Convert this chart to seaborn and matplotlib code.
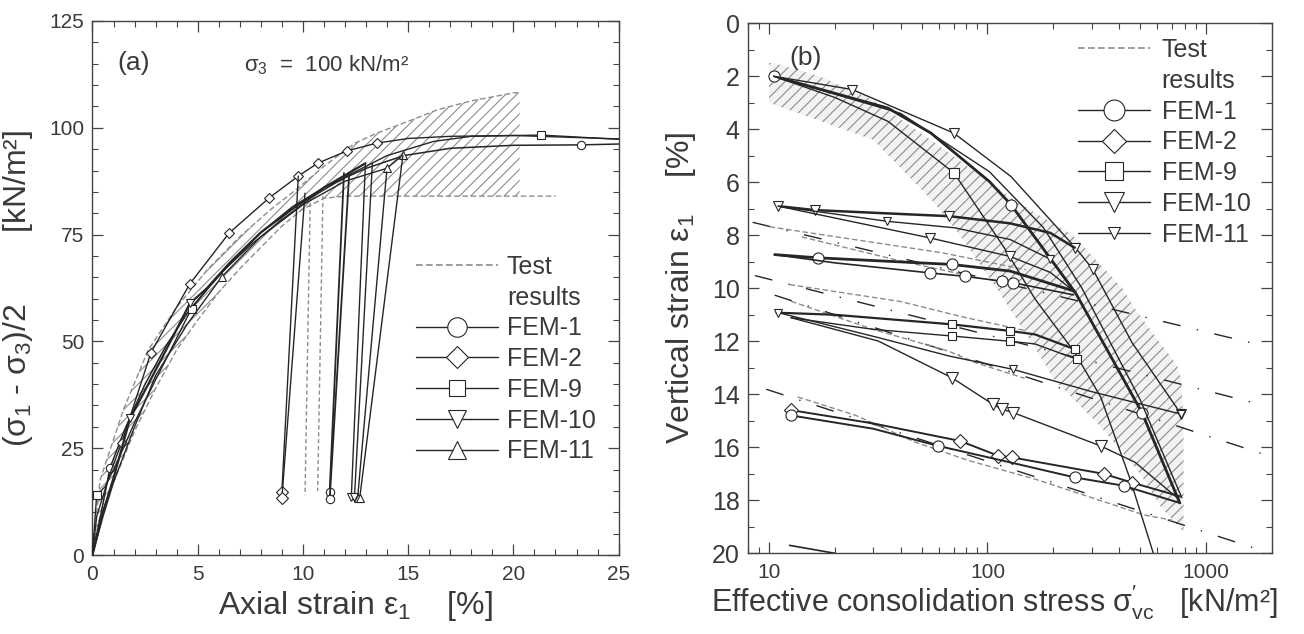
import numpy as np
import matplotlib
matplotlib.use("Agg")
import matplotlib.pyplot as plt
import seaborn as sns
from matplotlib.lines import Line2D
from matplotlib.ticker import MultipleLocator, LogLocator, NullFormatter, FixedLocator, FixedFormatter

# ---------------- Panel (a) data: stress-strain ----------------
a_fem1_x = [0, 0.5, 0.83, 1.5, 2.5, 3.5, 4.63, 5.5, 6.5, 8, 9.5, 11, 12.0, 13, 14.8, 17, 20, 23.2, 25]
a_fem1_y = [0, 12, 20.3, 29, 40, 49, 57.5, 62.5, 68, 75.5, 81.5, 86, 88.3, 90.5, 93.5, 95.2, 95.9, 96, 96.2]
a_fem2_x = [0, 0.2, 0.83, 1.39, 2.78, 4.63, 6.5, 8.4, 9.78, 10.7, 12.1, 13.5, 15, 17, 20, 25]
a_fem2_y = [0, 9, 19, 26.3, 47.4, 63.5, 75.4, 83.6, 88.7, 91.7, 94.6, 96.4, 97.5, 98.0, 98.2, 97.4]
a_fem9_x = [0, 0.2, 0.6, 1.2, 2, 3, 4.71, 6, 7.5, 9, 10.5, 12.2, 14, 16.2, 18, 21.3, 25]
a_fem9_y = [0, 14, 16, 22, 31, 41, 57.7, 65.5, 72.5, 78.5, 84, 89, 93.5, 96.8, 98, 98.3, 97.3]
a_fem10_x = [0, 0.5, 1, 1.79, 2.42, 3.5, 4.63, 5.43, 6.54, 8, 9.5, 11, 12.97]
a_fem10_y = [0, 10, 18, 32, 37.8, 48, 58.9, 62.4, 68.5, 75.5, 81, 86, 91.7]
a_fem11_x = [0, 0.5, 1, 2, 3, 4.5, 6.14, 8, 10, 12, 13.98, 14.75]
a_fem11_y = [0, 9, 17, 30, 42, 54, 65.1, 74.5, 82, 87.5, 90.5, 93.6]

# unloading (drop) lines
a_drop_fem2_x = [[9.78, 9.0], [10.1, 9.0]]
a_drop_fem2_y = [[88.7, 14.8], [84.7, 13.3]]
a_drop_fem1_x = [[11.95, 11.27], [12.2, 11.27]]
a_drop_fem1_y = [[89.4, 14.7], [89.4, 13.0]]
a_drop_fem10_x = [[12.97, 12.3], [13.3, 12.45]]
a_drop_fem10_y = [[91.7, 13.6], [91.7, 13.6]]
a_drop_fem11_x = [[13.98, 12.6], [14.75, 12.7]]
a_drop_fem11_y = [[89.7, 13.4], [93.6, 13.4]]

# test results band
a_test_up_x = [0, 0.36, 1.47, 2.65, 4, 5.5, 7, 8.5, 9.8, 11, 12.47, 13.49, 15, 16.38, 18, 20.03, 20.3]
a_test_up_y = [0, 17.5, 34, 48, 58, 67, 74.5, 81, 86, 91, 96.4, 98.7, 101.5, 104.2, 106.3, 108.2, 108.2]
a_test_lo_x = [0, 0.3, 1, 2, 3, 4, 5, 6, 7, 8, 9, 10, 11, 12, 14, 17, 20, 20.3, 22]
a_test_lo_y = [0, 8, 17, 29, 39, 48, 55, 61.5, 67, 72, 77, 81, 83.5, 84, 84, 84, 84, 84, 84]
a_test_drop_x = [[10.35, 10.1], [10.95, 10.7]]
a_test_drop_y = [[84, 14], [84, 15]]

# ---------------- Panel (b) data: consolidation ----------------
b_band_y = [1.5, 2.0, 2.9, 3.0, 4.4, 6.7, 8, 10, 10.7, 11.9, 12.9, 13.4, 15.2, 17, 18.2, 19.2]
b_band_xl = [10, 10, 10, 10, 30, 56, 75, 110, 125, 155, 185, 200, 328, 501, 617, 791]
b_band_xr = [10.5, 17, 30, 31, 55, 134, 246, 415, 467, 597, 738, 770, 790, 791, 791, 791]

# consolidation (loading) lines
b_L1_x = [10.5, 35, 55, 102, 128, 253, 510, 760]
b_L1_y = [2.0, 3.2, 4.14, 5.97, 6.84, 10.17, 14.69, 18.1]
b_L2_x = [10.5, 24, 70, 128, 253, 304, 460, 771]
b_L2_y = [2.0, 2.5, 4.14, 5.78, 8.47, 9.29, 12.06, 14.75]
b_L3_x = [10.5, 20, 35, 70.3, 120, 165, 250, 330, 450, 575]
b_L3_y = [2.0, 2.8, 3.7, 5.65, 8.5, 10.4, 12.4, 14.1, 17.2, 20.0]
b_L4_x = [10.5, 40, 102, 180, 270, 500, 776]
b_L4_y = [2.0, 3.4, 5.6, 7.7, 9.98, 14.2, 17.9]

# reloading lines (triangles)
b_T1_x = [11, 16.2, 67, 127, 194, 251]
b_T1_y = [6.9, 7.05, 7.28, 7.55, 7.91, 8.47]
b_T2_x = [11, 34.5, 71, 127, 194, 248]
b_T2_y = [6.9, 7.47, 7.72, 8.16, 8.9, 10.1]
b_T3_x = [11, 54.5, 127, 194, 248]
b_T3_y = [6.9, 8.1, 8.8, 9.4, 10.1]
# circles
b_C1_x = [10.6, 16.7, 68.5, 127, 248]
b_C1_y = [8.73, 8.85, 9.1, 9.35, 10.1]
b_C2_x = [10.6, 20, 54.5, 78.9, 116, 131, 248]
b_C2_y = [8.73, 9.04, 9.42, 9.55, 9.73, 9.79, 10.25]
# squares
b_S1_x = [10.8, 20, 68.5, 127, 165, 253]
b_S1_y = [10.92, 11.0, 11.36, 11.61, 11.74, 12.31]
b_S2_x = [12.6, 30, 68.5, 127, 165, 257]
b_S2_y = [11.11, 11.55, 11.8, 12.0, 12.1, 12.68]
# FEM-10 / FEM-11 reloading
b_F10_x = [12.6, 31.6, 68.5, 106, 116, 131, 330, 475, 750]
b_F10_y = [11.11, 11.99, 13.37, 14.38, 14.56, 14.69, 15.95, 16.57, 17.95]
b_F11_x = [11, 31.6, 67, 131, 300, 771]
b_F11_y = [10.92, 11.86, 12.56, 13.06, 13.9, 14.75]
# diamonds / circles bottom
b_D1_x = [12.65, 30, 74.8, 112, 129, 340, 458, 760]
b_D1_y = [14.6, 15.1, 15.76, 16.32, 16.38, 17.0, 17.33, 17.85]
b_D2_x = [12.65, 30, 59.6, 110, 252, 420, 760]
b_D2_y = [14.8, 15.3, 15.95, 16.45, 17.14, 17.45, 18.1]
b_tail_x = [12.4, 20]
b_tail_y = [19.7, 20.0]

# test results (gray dashed)
b_G1a_x = [10.05, 62, 150]
b_G1a_y = [7.68, 8.66, 9.3]
b_G1b_x = [14.1, 37.7, 90]
b_G1b_y = [8.06, 8.92, 9.6]
b_G2a_x = [12.4, 40, 78.8, 150]
b_G2a_y = [9.86, 10.5, 11.1, 11.6]
b_G2b_x = [12.6, 29.9, 66.3, 87.7, 148]
b_G2b_y = [10.49, 11.55, 12.37, 12.8, 13.4]
b_G3_x = [13.5, 25, 46.5, 82, 165, 300, 519, 700]
b_G3_y = [14.1, 14.8, 15.8, 16.5, 17.2, 17.9, 18.55, 18.75]

# reference lines (dash-dot), given as end points
b_R_x = [[8.4, 1600], [8.6, 1620], [10.6, 1840], [9.7, 1720]]
b_R_y = [[7.51, 12.05], [9.52, 14.3], [10.26, 16.26], [13.81, 19.84]]

# ---------------- styling ----------------
sns.set_theme(style="ticks")
plt.rcParams['font.family'] = ['Liberation Sans', 'DejaVu Sans']
plt.rcParams['mathtext.fontset'] = 'custom'
plt.rcParams['mathtext.rm'] = 'Liberation Sans'
plt.rcParams['mathtext.it'] = 'Liberation Sans:italic'
plt.rcParams['hatch.linewidth'] = 0.8
plt.rcParams['hatch.color'] = '#8a8a8a'
TXT = '#3a3a3a'
LC = '#262626'
GC = '#8c8c8c'

fig = plt.figure(figsize=(13.04, 6.34), dpi=100)
ax1 = fig.add_axes([0.0709, 0.1246, 0.4035, 0.8423])
ax2 = fig.add_axes([0.5736, 0.1273, 0.4015, 0.836])

def line(ax, x, y, lw=1.0, color=LC, marker=None, ms=6, mevery=None, ls='-', z=3, dashes=None):
    kw = dict(x=x, y=y, ax=ax, color=color, lw=lw, sort=False, estimator=None,
              legend=False, zorder=z)
    if marker:
        kw.update(marker=marker, markersize=ms, markerfacecolor='white',
                  markeredgecolor=color, markeredgewidth=0.8,
                  markevery=mevery if mevery is not None else slice(None))
    if dashes is not None:
        kw.update(dashes=dashes)
    elif ls != '-':
        kw.update(linestyle=ls)
    sns.lineplot(**kw)

# ---- panel (a)
xs = np.linspace(0, 20.3, 200)
ax1.fill_between(xs, np.interp(xs, a_test_lo_x, a_test_lo_y),
                 np.interp(xs, a_test_up_x, a_test_up_y),
                 facecolor='none', edgecolor=GC, hatch='///', lw=0, zorder=1)
line(ax1, a_test_up_x, a_test_up_y, lw=1.0, color=GC, dashes=(4, 2), z=2)
line(ax1, a_test_lo_x, a_test_lo_y, lw=1.0, color=GC, dashes=(4, 2), z=2)
for xx, yy in zip(a_test_drop_x, a_test_drop_y):
    line(ax1, xx, yy, lw=1.0, color=GC, dashes=(3, 2), z=2)

line(ax1, a_fem1_x, a_fem1_y, lw=1.1, marker='o', ms=6, mevery=[2, 17])
line(ax1, a_fem2_x, a_fem2_y, lw=1.0, marker='D', ms=5.5, mevery=[3, 4, 5, 6, 7, 8, 9, 10, 11])
line(ax1, a_fem9_x, a_fem9_y, lw=1.0, marker='s', ms=5.5, mevery=[1, 6, 15])
line(ax1, a_fem10_x, a_fem10_y, lw=1.6, marker='v', ms=6, mevery=[3, 6])
line(ax1, a_fem11_x, a_fem11_y, lw=1.0, marker='^', ms=6, mevery=[6, 10, 11])
for xx, yy in zip(a_drop_fem2_x, a_drop_fem2_y):
    line(ax1, xx, yy, lw=1.0, marker='D', ms=6, mevery=[1])
for xx, yy in zip(a_drop_fem1_x, a_drop_fem1_y):
    line(ax1, xx, yy, lw=1.3, marker='o', ms=6, mevery=[1])
for xx, yy in zip(a_drop_fem10_x, a_drop_fem10_y):
    line(ax1, xx, yy, lw=1.0, marker='v', ms=6, mevery=[1])
for xx, yy in zip(a_drop_fem11_x, a_drop_fem11_y):
    line(ax1, xx, yy, lw=1.0, marker='^', ms=6, mevery=[1])

ax1.set_xlim(0, 25)
ax1.set_ylim(0, 125)
ax1.xaxis.set_major_locator(MultipleLocator(5))
ax1.xaxis.set_minor_locator(MultipleLocator(1))
ax1.yaxis.set_major_locator(MultipleLocator(25))
ax1.yaxis.set_minor_locator(MultipleLocator(5))
ax1.set_xlabel("Axial strain ε$_1$    [%]", fontsize=23, color=TXT, labelpad=4)
ax1.set_ylabel("(σ$_1$ - σ$_3$)/2        [kN/m²]", fontsize=23, color=TXT, labelpad=10)
ax1.text(0.047, 0.921, "(a)", transform=ax1.transAxes, fontsize=19, color=TXT, va='center')
ax1.text(0.288, 0.917, "σ$_3$  =  100 kN/m²", transform=ax1.transAxes, fontsize=16, color=TXT, va='center')

# ---- panel (b)
ax2.set_xscale('log')
ax2.fill_betweenx(b_band_y, b_band_xl, b_band_xr, facecolor='#f2f2f2', edgecolor=GC,
                  hatch='///', lw=0, zorder=1)
for xx, yy in zip(b_R_x, b_R_y):
    ax2.plot(xx, yy, color=LC, lw=1.0, dashes=(13, 12, 1, 12), zorder=2)
for gx, gy in [(b_G1a_x, b_G1a_y), (b_G1b_x, b_G1b_y), (b_G2a_x, b_G2a_y),
               (b_G2b_x, b_G2b_y), (b_G3_x, b_G3_y)]:
    line(ax2, gx, gy, lw=1.0, color=GC, dashes=(4, 2), z=2)

line(ax2, b_L1_x, b_L1_y, lw=2.0, marker='o', ms=8, mevery=[0, 4, 6])
line(ax2, b_L2_x, b_L2_y, lw=1.0, marker='v', ms=7, mevery=[1, 2, 4, 5, 7])
line(ax2, b_L3_x, b_L3_y, lw=1.0, marker='s', ms=7, mevery=[3])
line(ax2, b_L4_x, b_L4_y, lw=1.0)
line(ax2, b_T1_x, b_T1_y, lw=1.8, marker='v', ms=7, mevery=[0, 1, 2])
line(ax2, b_T2_x, b_T2_y, lw=1.0, marker='v', ms=6, mevery=[1, 4])
line(ax2, b_T3_x, b_T3_y, lw=1.0, marker='v', ms=7, mevery=[1, 2])
line(ax2, b_C1_x, b_C1_y, lw=2.0, marker='o', ms=8, mevery=[1, 2])
line(ax2, b_C2_x, b_C2_y, lw=1.2, marker='o', ms=8, mevery=[2, 3, 4, 5])
line(ax2, b_S1_x, b_S1_y, lw=1.6, marker='s', ms=6, mevery=[2, 3, 5])
line(ax2, b_S2_x, b_S2_y, lw=1.0, marker='s', ms=6, mevery=[2, 3, 5])
line(ax2, b_F10_x, b_F10_y, lw=1.0, marker='v', ms=8, mevery=[2, 3, 4, 5, 6])
line(ax2, b_F11_x, b_F11_y, lw=1.0, marker='v', ms=6, mevery=[0, 3, 5])
line(ax2, b_D1_x, b_D1_y, lw=1.4, marker='D', ms=7, mevery=[0, 2, 3, 4, 5, 6])
line(ax2, b_D2_x, b_D2_y, lw=1.4, marker='o', ms=8, mevery=[0, 2, 4, 5])
line(ax2, b_tail_x, b_tail_y, lw=1.2)

ax2.set_xlim(8, 2000)
ax2.set_ylim(20, 0)
ax2.xaxis.set_major_locator(FixedLocator([10, 100, 1000]))
ax2.xaxis.set_major_formatter(FixedFormatter(["10", "100", "1000"]))
ax2.xaxis.set_minor_locator(LogLocator(base=10, subs=np.arange(2, 10), numticks=20))
ax2.xaxis.set_minor_formatter(NullFormatter())
ax2.yaxis.set_major_locator(MultipleLocator(2))
ax2.yaxis.set_minor_locator(MultipleLocator(1))
ax2.set_xlabel("Effective consolidation stress σ$^{\\prime}_{\\mathrm{vc}}$   [kN/m²]",
               fontsize=22, color=TXT, labelpad=4)
ax2.xaxis.set_label_coords(0.47, -0.055)
ax2.set_ylabel("Vertical strain ε$_1$    [%]", fontsize=23, color=TXT, labelpad=10)
ax2.text(0.08, 0.934, "(b)", transform=ax2.transAxes, fontsize=19, color=TXT, va='center')

for ax, yfs in [(ax1, 15), (ax2, 18)]:
    for s in ax.spines.values():
        s.set_visible(True)
        s.set_color('#444444')
        s.set_linewidth(1.0)
    ax.tick_params(which='both', direction='in', top=True, right=True, colors='#444444')
    ax.tick_params(which='major', length=8, width=0.9)
    ax.tick_params(which='minor', length=4, width=0.8)
    ax.tick_params(axis='x', labelsize=15, labelcolor=TXT, pad=7)
    ax.tick_params(axis='y', labelsize=yfs, labelcolor=TXT, pad=6)

# ---- legends
def handles(big):
    ms = 14 if big else 13
    hs = [Line2D([], [], color=GC, lw=1.2, dashes=(4, 2)),
          Line2D([], [], color='none')]
    mk = [('o', ms + 1), ('D', ms - 2), ('s', ms - 1), ('v', ms), ('^' if not big else 'v', ms if not big else 8)]
    for m, s in mk:
        hs.append(Line2D([], [], color=LC, lw=1.0, marker=m, markersize=s,
                         markerfacecolor='white', markeredgecolor=LC, markeredgewidth=0.8))
    return hs

labels = ["Test", "results", "FEM-1", "FEM-2", "FEM-9", "FEM-10", "FEM-11"]
leg1 = ax1.legend(handles(False), labels, loc='upper left', bbox_to_anchor=(0.614, 0.562),
                  frameon=False, fontsize=18, handlelength=3.3, handletextpad=0.35,
                  labelspacing=0.27, borderpad=0, borderaxespad=0, labelcolor=TXT)
leg2 = ax2.legend(handles(True), labels, loc='upper left', bbox_to_anchor=(0.63, 0.972),
                  frameon=False, fontsize=18, handlelength=2.9, handletextpad=0.45,
                  labelspacing=0.27, borderpad=0, borderaxespad=0, labelcolor=TXT)

fig.savefig("out.png", dpi=100, facecolor='white')
